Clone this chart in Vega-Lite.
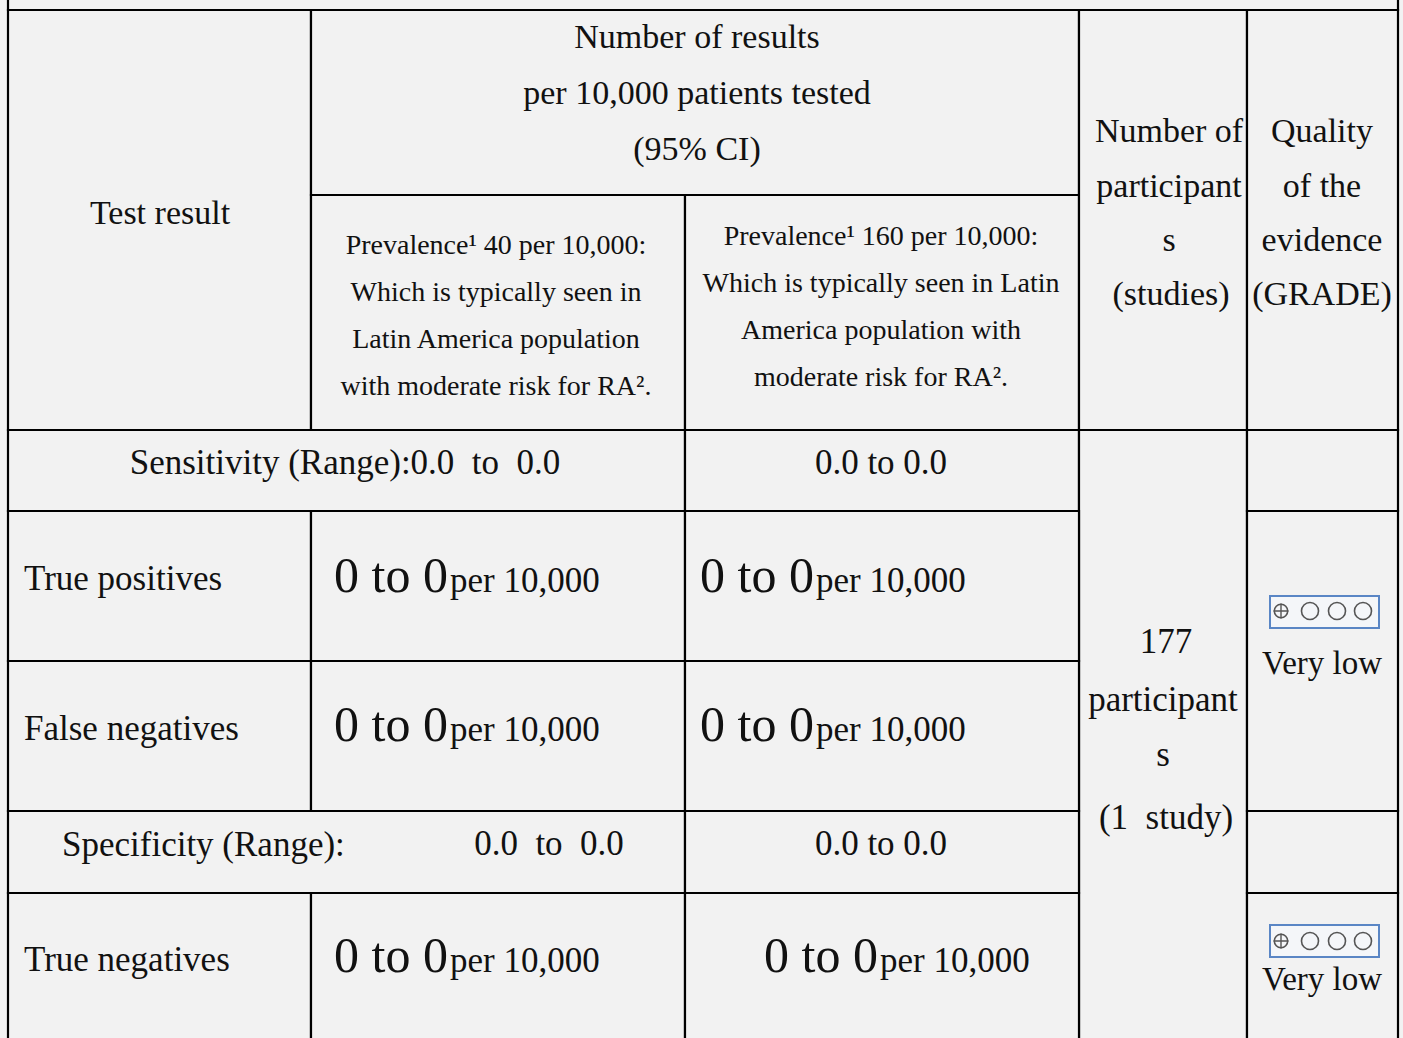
{
  "$schema": "https://vega.github.io/schema/vega-lite/v6.json",
  "autosize": {"type": "fit", "contains": "padding"},
  "width": 1403,
  "height": 1038,
  "padding": 0,
  "background": "#f2f2f2",
  "config": {"view": {"stroke": null}},
  "datasets": {
    "cells": [
      {"x": 8, "x2": 1398, "y": -30, "y2": 10},
      {"x": 8, "x2": 311, "y": 10, "y2": 430},
      {"x": 311, "x2": 1079, "y": 10, "y2": 195},
      {"x": 311, "x2": 685, "y": 195, "y2": 430},
      {"x": 685, "x2": 1079, "y": 195, "y2": 430},
      {"x": 1079, "x2": 1247, "y": 10, "y2": 430},
      {"x": 1247, "x2": 1398, "y": 10, "y2": 430},
      {"x": 8, "x2": 685, "y": 430, "y2": 511},
      {"x": 685, "x2": 1079, "y": 430, "y2": 511},
      {"x": 1079, "x2": 1247, "y": 430, "y2": 1070},
      {"x": 1247, "x2": 1398, "y": 430, "y2": 511},
      {"x": 8, "x2": 311, "y": 511, "y2": 661},
      {"x": 311, "x2": 685, "y": 511, "y2": 661},
      {"x": 685, "x2": 1079, "y": 511, "y2": 661},
      {"x": 1247, "x2": 1398, "y": 511, "y2": 811},
      {"x": 8, "x2": 311, "y": 661, "y2": 811},
      {"x": 311, "x2": 685, "y": 661, "y2": 811},
      {"x": 685, "x2": 1079, "y": 661, "y2": 811},
      {"x": 8, "x2": 685, "y": 811, "y2": 893},
      {"x": 685, "x2": 1079, "y": 811, "y2": 893},
      {"x": 1247, "x2": 1398, "y": 811, "y2": 893},
      {"x": 8, "x2": 311, "y": 893, "y2": 1070},
      {"x": 311, "x2": 685, "y": 893, "y2": 1070},
      {"x": 685, "x2": 1079, "y": 893, "y2": 1070},
      {"x": 1247, "x2": 1398, "y": 893, "y2": 1070}
    ],
    "grade": [
      {"x": 1270, "x2": 1379, "y": 596, "y2": 628},
      {"x": 1270, "x2": 1379, "y": 925, "y2": 957}
    ],
    "dots": [
      {"x": 1281, "y": 611, "k": "p"},
      {"x": 1310, "y": 611, "k": "o"},
      {"x": 1337, "y": 611, "k": "o"},
      {"x": 1363, "y": 611, "k": "o"},
      {"x": 1281, "y": 941, "k": "p"},
      {"x": 1310, "y": 941, "k": "o"},
      {"x": 1337, "y": 941, "k": "o"},
      {"x": 1363, "y": 941, "k": "o"}
    ],
    "textC": [
      {"t": "Number of results", "x": 697, "y": 48, "r": "head"},
      {"t": "per 10,000 patients tested", "x": 697, "y": 104, "r": "head"},
      {"t": "(95% CI)", "x": 697, "y": 160, "r": "head"},
      {"t": "Test result", "x": 160, "y": 224, "r": "head"},
      {"t": "Prevalence¹ 40 per 10,000:", "x": 496, "y": 254, "r": "prev"},
      {"t": "Which is typically seen in", "x": 496, "y": 301, "r": "prev"},
      {"t": "Latin America population", "x": 496, "y": 348, "r": "prev"},
      {"t": "with moderate risk for RA².", "x": 496, "y": 395, "r": "prev"},
      {"t": "Prevalence¹ 160 per 10,000:", "x": 881, "y": 245, "r": "prev"},
      {"t": "Which is typically seen in Latin", "x": 881, "y": 292, "r": "prev"},
      {"t": "America population with", "x": 881, "y": 339, "r": "prev"},
      {"t": "moderate risk for RA².", "x": 881, "y": 386, "r": "prev"},
      {"t": "Number of", "x": 1169, "y": 142, "r": "head"},
      {"t": "participant", "x": 1169, "y": 197, "r": "head"},
      {"t": "s", "x": 1169, "y": 251, "r": "head"},
      {"t": "(studies)", "x": 1171, "y": 305, "r": "head"},
      {"t": "Quality", "x": 1322, "y": 142, "r": "head"},
      {"t": "of the", "x": 1322, "y": 197, "r": "head"},
      {"t": "evidence", "x": 1322, "y": 251, "r": "head"},
      {"t": "(GRADE)", "x": 1322, "y": 305, "r": "head"},
      {"t": "Sensitivity (Range):0.0\u00a0 to\u00a0 0.0", "x": 345, "y": 474, "r": "body"},
      {"t": "0.0 to 0.0", "x": 881, "y": 474, "r": "body"},
      {"t": "0.0\u00a0 to\u00a0 0.0", "x": 549, "y": 855, "r": "body"},
      {"t": "0.0 to 0.0", "x": 881, "y": 855, "r": "body"},
      {"t": "177", "x": 1166, "y": 653, "r": "body"},
      {"t": "participant", "x": 1163, "y": 711, "r": "body"},
      {"t": "s", "x": 1163, "y": 766, "r": "body"},
      {"t": "(1\u00a0 study)", "x": 1166, "y": 829, "r": "body"},
      {"t": "Very low", "x": 1322, "y": 674, "r": "grade"},
      {"t": "Very low", "x": 1322, "y": 990, "r": "grade"}
    ],
    "textL": [
      {"t": "True positives", "x": 24, "y": 590, "r": "body"},
      {"t": "False negatives", "x": 24, "y": 740, "r": "body"},
      {"t": "Specificity (Range):", "x": 62, "y": 856, "r": "body"},
      {"t": "True negatives", "x": 24, "y": 971, "r": "body"},
      {"t": "per 10,000", "x": 450, "y": 592, "r": "body"},
      {"t": "per 10,000", "x": 816, "y": 592, "r": "body"},
      {"t": "per 10,000", "x": 450, "y": 741, "r": "body"},
      {"t": "per 10,000", "x": 816, "y": 741, "r": "body"},
      {"t": "per 10,000", "x": 450, "y": 972, "r": "body"},
      {"t": "per 10,000", "x": 880, "y": 972, "r": "body"}
    ],
    "textR": [
      {"t": "0 to 0", "x": 448, "y": 592, "r": "big"},
      {"t": "0 to 0", "x": 814, "y": 592, "r": "big"},
      {"t": "0 to 0", "x": 448, "y": 741, "r": "big"},
      {"t": "0 to 0", "x": 814, "y": 741, "r": "big"},
      {"t": "0 to 0", "x": 448, "y": 972, "r": "big"},
      {"t": "0 to 0", "x": 878, "y": 972, "r": "big"}
    ]
  },
  "layer": [
    {
      "data": {"name": "cells"},
      "mark": {"type": "rect", "fill": "#f2f2f2", "stroke": "#000000", "strokeWidth": 2.2, "clip": true},
      "encoding": {
        "x": {"field": "x", "type": "quantitative", "scale": {"domain": [0, 1403], "nice": false, "zero": false}, "axis": null},
        "x2": {"field": "x2"},
        "y": {"field": "y", "type": "quantitative", "scale": {"domain": [0, 1038], "nice": false, "zero": false, "reverse": true}, "axis": null},
        "y2": {"field": "y2"}
      }
    },
    {
      "data": {"name": "grade"},
      "mark": {"type": "rect", "fill": "#f4f6f9", "stroke": "#5a86c5", "strokeWidth": 2},
      "encoding": {
        "x": {"field": "x", "type": "quantitative", "axis": null},
        "x2": {"field": "x2"},
        "y": {"field": "y", "type": "quantitative", "axis": null},
        "y2": {"field": "y2"}
      }
    },
    {
      "data": {"name": "dots"},
      "mark": {"type": "point", "shape": "circle", "filled": false, "stroke": "#555555", "strokeWidth": 1.6, "opacity": 1},
      "encoding": {
        "x": {"field": "x", "type": "quantitative", "axis": null},
        "y": {"field": "y", "type": "quantitative", "axis": null},
        "size": {"field": "k", "type": "nominal", "scale": {"type": "ordinal", "domain": ["p", "o"], "range": [180, 290]}, "legend": null}
      }
    },
    {
      "data": {"name": "dots"},
      "transform": [{"filter": "datum.k == 'p'"}],
      "mark": {"type": "point", "shape": "M-1,0L1,0M0,-1L0,1", "filled": false, "stroke": "#555555", "strokeWidth": 1.4, "size": 220, "opacity": 1},
      "encoding": {
        "x": {"field": "x", "type": "quantitative", "axis": null},
        "y": {"field": "y", "type": "quantitative", "axis": null}
      }
    },
    {
      "data": {"name": "textC"},
      "mark": {"type": "text", "align": "center", "baseline": "alphabetic", "font": "Liberation Serif", "color": "#111111"},
      "encoding": {
        "x": {"field": "x", "type": "quantitative", "axis": null},
        "y": {"field": "y", "type": "quantitative", "axis": null},
        "text": {"field": "t"},
        "size": {"field": "r", "type": "nominal", "scale": {"type": "ordinal", "domain": ["head", "prev", "body", "big", "grade"], "range": [34, 28, 35, 50, 33]}, "legend": null}
      }
    },
    {
      "data": {"name": "textL"},
      "mark": {"type": "text", "align": "left", "baseline": "alphabetic", "font": "Liberation Serif", "color": "#111111"},
      "encoding": {
        "x": {"field": "x", "type": "quantitative", "axis": null},
        "y": {"field": "y", "type": "quantitative", "axis": null},
        "text": {"field": "t"},
        "size": {"field": "r", "type": "nominal", "scale": {"type": "ordinal", "domain": ["head", "prev", "body", "big", "grade"], "range": [34, 28, 35, 50, 33]}, "legend": null}
      }
    },
    {
      "data": {"name": "textR"},
      "mark": {"type": "text", "align": "right", "baseline": "alphabetic", "font": "Liberation Serif", "color": "#111111"},
      "encoding": {
        "x": {"field": "x", "type": "quantitative", "axis": null},
        "y": {"field": "y", "type": "quantitative", "axis": null},
        "text": {"field": "t"},
        "size": {"field": "r", "type": "nominal", "scale": {"type": "ordinal", "domain": ["head", "prev", "body", "big", "grade"], "range": [34, 28, 35, 50, 33]}, "legend": null}
      }
    }
  ],
  "resolve": {"scale": {"size": "independent"}}
}
